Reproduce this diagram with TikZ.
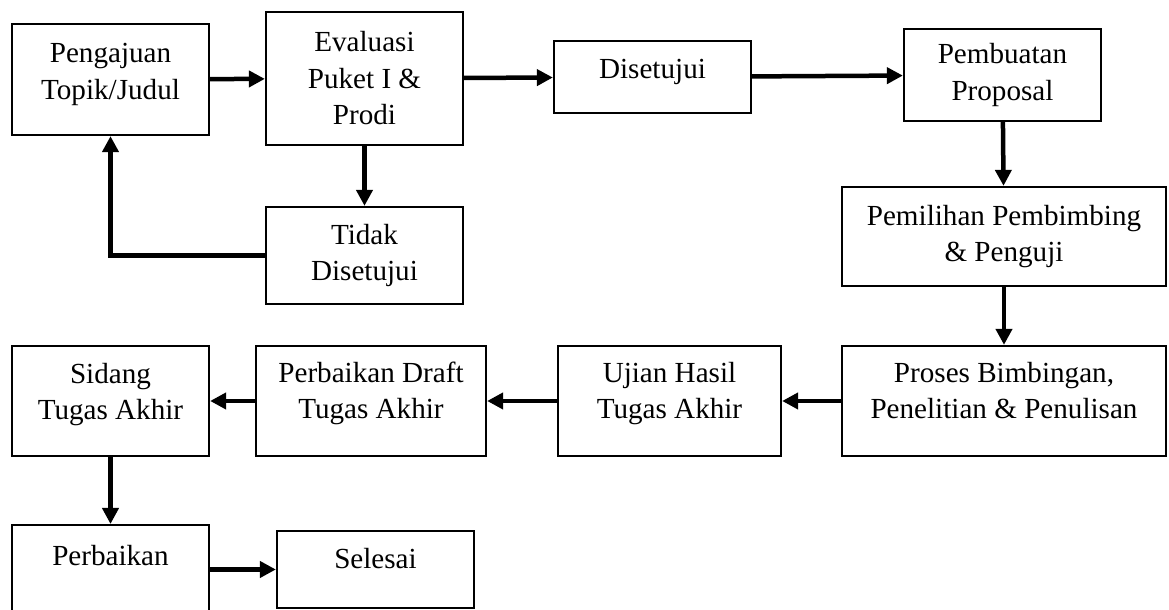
\documentclass[tikz,border=0pt]{standalone}
\usepackage{fontspec}
\setmainfont{Liberation Serif}
\usetikzlibrary{arrows.meta}
\newcommand\padbelow[1]{\rule[-#1]{0pt}{#1}}

\begin{document}
\begin{tikzpicture}[x=0.4pt,y=-0.4pt,
    kotak/.style={draw,line width=0.9pt,align=center,minimum width=78.8pt,
      font=\fontsize{11.65}{14.6}\selectfont},
    panah/.style={line width=1.8pt,-{Triangle[length=6.4pt,width=6.4pt]}}]
\useasboundingbox (0,0) rectangle (1169,610);
\clip (0,0) rectangle (1169,610);

\node[kotak,minimum height=44.4pt] (ajuan) at (110.5,79.5) {Pengajuan\\Topik/Judul\padbelow{6.6pt}};
\node[kotak,minimum height=53.2pt] (evaluasi) at (364.5,78.5) {Evaluasi\\Puket I \&\\Prodi};
\node[kotak,minimum height=38.8pt] (tidak) at (364.5,255.5) {Tidak\\Disetujui};
\node[kotak,minimum height=28.8pt] (setuju) at (652.5,77) {Disetujui\padbelow{6.6pt}};
\node[kotak,minimum height=36.8pt] (proposal) at (1002.5,75) {Pembuatan\\Proposal};
\node[kotak,minimum width=129.6pt,minimum height=39.6pt] (pilih) at (1004,236.5) {Pemilihan Pembimbing\\\& Penguji};
\node[kotak,minimum width=129.6pt,minimum height=44pt] (proses) at (1004,401) {Proses Bimbingan,\\Penelitian \& Penulisan\padbelow{8.4pt}};
\node[kotak,minimum width=89.2pt,minimum height=44pt] (ujian) at (669.5,401) {Ujian Hasil\\Tugas Akhir\padbelow{8.6pt}};
\node[kotak,minimum width=92pt,minimum height=44pt] (draft) at (371,401) {Perbaikan Draft\\Tugas Akhir\padbelow{8.6pt}};
\node[kotak,minimum height=44pt] (sidang) at (110.5,401) {Sidang\\Tugas Akhir\padbelow{7.8pt}};
\node[kotak,anchor=north,inner ysep=8pt,text depth=60pt] (perbaikan) at (110.5,524) {Perbaikan};
\node[kotak,minimum height=30.8pt] (selesai) at (375.5,569.5) {Selesai\padbelow{8.8pt}};

\draw[panah] (ajuan) -- (evaluasi);
\draw[panah] (evaluasi) -- (setuju);
\draw[panah] (setuju) -- (proposal);
\draw[panah] (evaluasi) -- (tidak);
\draw[panah] (tidak.west) -| (ajuan.south);
\draw[panah] (proposal) -- (pilih);
\draw[panah] (pilih) -- (proses);
\draw[panah] (proses) -- (ujian);
\draw[panah] (ujian) -- (draft);
\draw[panah] (draft) -- (sidang);
\draw[panah] (sidang.south) -- (perbaikan.north);
\draw[panah] (perbaikan.east |- selesai.west) -- (selesai.west);
\end{tikzpicture}
\end{document}
